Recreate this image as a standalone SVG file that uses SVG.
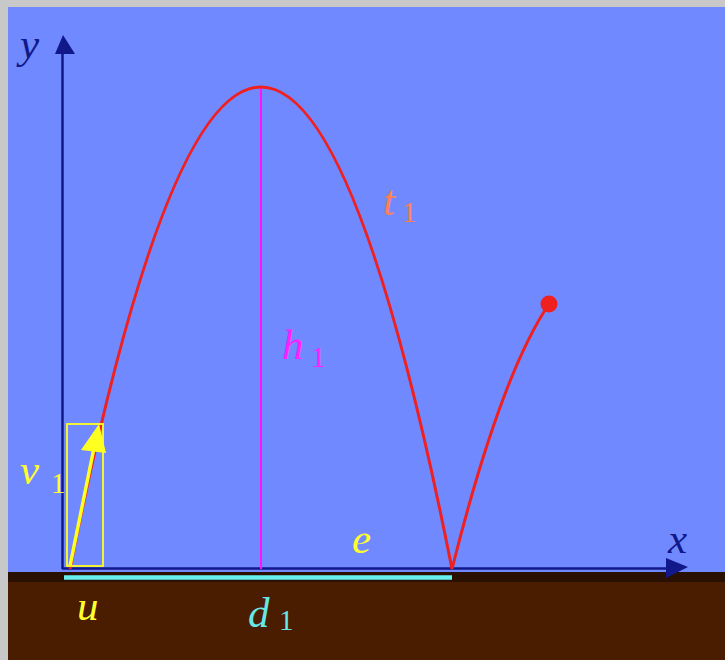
<svg xmlns="http://www.w3.org/2000/svg" width="725" height="660" viewBox="0 0 725 660">
<style>
.lbl{font-family:"Liberation Serif","Times New Roman",serif;font-style:italic;font-size:43px}
.sub{font-family:"Liberation Serif","Times New Roman",serif;font-size:29px}
.axis{stroke:#10188A;stroke-width:2.5;fill:none}
</style>
<rect x="0" y="0" width="725" height="660" fill="#C8C8C8"/>
<rect x="8" y="7" width="717" height="653" fill="#7189FF"/>
<rect x="8" y="572" width="717" height="88" fill="#4A1C00"/>
<rect x="8" y="572" width="717" height="10" fill="#2A1000"/>
<g id="ground-line">
<line x1="64" y1="577.5" x2="452" y2="577.5" stroke="#66F0F0" stroke-width="4.5"/>
</g>
<g id="axes">
<line class="axis" x1="62.5" y1="569" x2="62.5" y2="50"/>
<polygon points="63,35 55,54 75,54" fill="#10188A"/>
<line class="axis" x1="62" y1="568.5" x2="670" y2="568.5"/>
<polygon points="666,558 688,567 666,578" fill="#10188A"/>
<text class="lbl" x="20" y="58" fill="#10188A">y</text>
<text class="lbl" x="668" y="553" fill="#10188A">x</text>
</g>
<g id="height">
<line x1="261" y1="88" x2="261" y2="569" stroke="#FF10FF" stroke-width="2"/>
</g>
<g id="trajectory">
<path d="M70,569 Q261,-395 452,569 Q500.5,375.5 549,304" fill="none" stroke="#F02020" stroke-width="3"/>
<circle cx="549" cy="304" r="8.5" fill="#F02020"/>
</g>
<g id="velocity">
<rect x="67" y="424" width="36" height="142" fill="none" stroke="#FFFF20" stroke-width="1.8"/>
<line x1="70" y1="566" x2="94" y2="448" stroke="#FFFF20" stroke-width="3.5"/>
<polygon points="99,424 81,450 106,453" fill="#FFFF20"/>
</g>
<g id="labels">
<text class="lbl" x="20" y="484" fill="#FFFF30">v</text>
<text class="sub" x="51" y="493" fill="#FFFF30">1</text>
<text class="lbl" x="77" y="620" fill="#FFFF30">u</text>
<text class="lbl" x="352" y="553" fill="#FFFF30">e</text>
<text class="lbl" x="248" y="627" fill="#66E8E8">d</text>
<text class="sub" x="279" y="630" fill="#66E8E8">1</text>
<text class="lbl" x="383" y="215" fill="#FF8050">t</text>
<text class="sub" x="402" y="222" fill="#FF8050">1</text>
<text class="lbl" x="282" y="359" fill="#FF20FF">h</text>
<text class="sub" x="311" y="367" fill="#FF20FF">1</text>
</g>
</svg>
